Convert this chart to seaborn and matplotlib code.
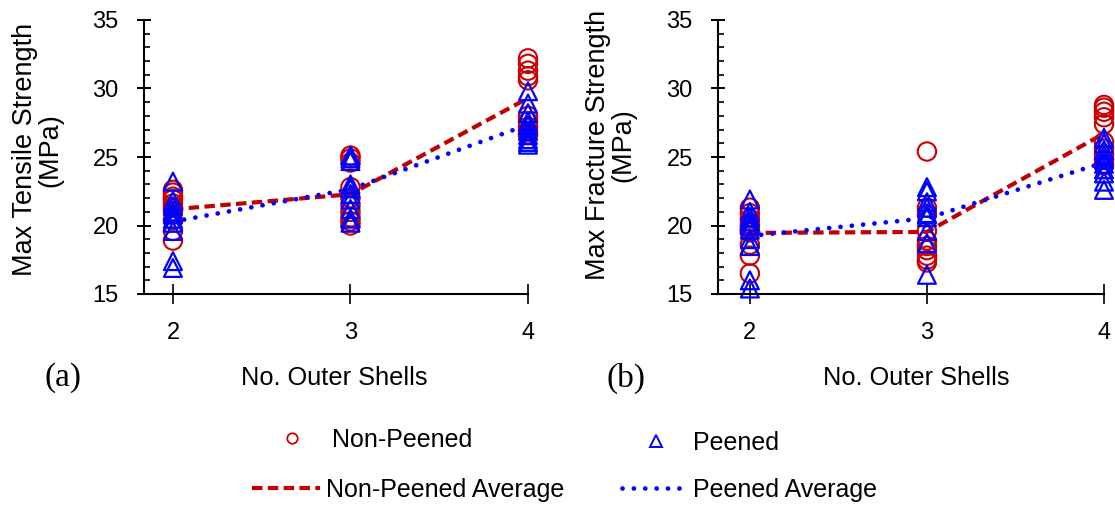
import numpy as np
import pandas as pd
import matplotlib
matplotlib.use("Agg")
import matplotlib.pyplot as plt
import seaborn as sns
from matplotlib.lines import Line2D
from matplotlib.ticker import MultipleLocator

# ---------------- data ----------------
shells = [2, 3, 4]

tensile_non_peened = [
    [22.6, 22.4, 22.1, 21.9, 21.6, 21.3, 21.0, 20.4, 19.6, 18.9],
    [25.1, 24.9, 24.6, 22.8, 22.0, 21.5, 21.0, 20.6, 20.3, 20.0],
    [32.2, 31.8, 31.3, 30.9, 30.6, 28.0, 27.6, 27.2, 26.8, 26.6],
]
tensile_peened = [
    [23.2, 21.8, 21.4, 21.0, 20.8, 20.5, 20.2, 19.6, 17.4, 16.9],
    [25.1, 24.9, 24.7, 23.0, 22.7, 22.3, 21.9, 21.2, 20.5, 20.2],
    [29.8, 28.9, 28.2, 27.6, 27.3, 26.9, 26.6, 26.3, 26.1, 25.9],
]
fracture_non_peened = [
    [21.3, 20.9, 20.5, 20.1, 19.8, 19.5, 19.6, 18.6, 17.8, 16.5],
    [25.4, 21.3, 20.8, 19.6, 18.9, 18.5, 18.2, 17.8, 17.5, 17.3],
    [28.8, 28.6, 28.3, 27.9, 27.4, 26.1, 25.6, 25.2, 24.8, 24.4],
]
fracture_peened = [
    [21.9, 21.0, 20.6, 20.3, 20.0, 19.7, 19.0, 18.5, 16.0, 15.4],
    [22.8, 22.5, 21.7, 21.3, 20.9, 20.6, 20.8, 19.6, 18.7, 16.4],
    [26.4, 26.0, 25.5, 25.1, 24.8, 24.5, 24.1, 23.8, 23.2, 22.6],
]

y_labels = ["Max Tensile Strength\n(MPa)", "Max Fracture Strength\n(MPa)"]
x_label = "No. Outer Shells"
panel_tags = ["(a)", "(b)"]
legend_labels = ["Non-Peened", "Peened", "Non-Peened Average", "Peened Average"]

# ---------------- style ----------------
RED = "#CC0000"
RED_LINE = "#C00000"
BLUE = "#0000FF"

sns.set_style("ticks")
plt.rcParams["font.family"] = ["Liberation Sans", "DejaVu Sans"]
plt.rcParams["text.color"] = "black"
plt.rcParams["axes.labelcolor"] = "black"
plt.rcParams["xtick.color"] = "black"
plt.rcParams["ytick.color"] = "black"

W, H = 1115, 508
fig = plt.figure(figsize=(W / 100, H / 100), dpi=100)


def to_long(groups):
    rows = []
    for s, vals in zip(shells, groups):
        for v in vals:
            rows.append({"shells": s, "value": v})
    return pd.DataFrame(rows)


DASH = (2.5, 1.3)
DOT = (0.01, 2.4)


def draw(ax, non_peened, peened, ylabel, xlim, ylab_pos, xlab_pos):
    df_np = to_long(non_peened)
    df_p = to_long(peened)
    sns.lineplot(data=df_np, x="shells", y="value", estimator="mean", errorbar=None,
                 color=RED_LINE, lw=3.0, ax=ax, zorder=1.5)
    sns.lineplot(data=df_p, x="shells", y="value", estimator="mean", errorbar=None,
                 color=BLUE, lw=3.4, ax=ax, zorder=1.6)
    ax.lines[0].set_dashes(DASH)
    ax.lines[1].set_dashes(DOT)
    ax.lines[1].set_dash_capstyle("round")
    sns.scatterplot(data=df_np, x="shells", y="value", marker="o", s=175,
                    facecolors="none", edgecolors=RED, linewidths=1.5,
                    ax=ax, clip_on=False, zorder=2)
    sns.scatterplot(data=df_p, x="shells", y="value", marker="^", s=165,
                    facecolors="none", edgecolors=BLUE, linewidths=1.6,
                    ax=ax, clip_on=False, zorder=2.5)

    ax.set_xlim(*xlim)
    ax.set_ylim(15, 35)
    ax.set_xticks(shells)
    ax.yaxis.set_major_locator(MultipleLocator(5))
    ax.yaxis.set_minor_locator(MultipleLocator(1))
    sns.despine(ax=ax)
    for sp in ("left", "bottom"):
        ax.spines[sp].set_linewidth(1.5)
        ax.spines[sp].set_color("black")
    ax.tick_params(axis="y", which="major", direction="inout", length=9.5, width=1.4,
                   pad=13.5, labelsize=17, colors="black")
    ax.tick_params(axis="y", which="minor", direction="in", length=4.5, width=1.2,
                   colors="black")
    ax.tick_params(axis="x", which="major", direction="inout", length=14, width=1.2,
                   pad=13, labelsize=17, colors="black")
    ax.set_ylabel(ylabel, fontsize=19.5, linespacing=0.95, color="black")
    ax.yaxis.set_label_coords(*ylab_pos)
    ax.set_xlabel(x_label, fontsize=18.3, color="black")
    ax.xaxis.set_label_coords(*xlab_pos)


ax1 = fig.add_axes([144 / W, 1 - 294 / H, 384 / W, 274 / H])
ax2 = fig.add_axes([718 / W, 1 - 294 / H, 386 / W, 274 / H])
draw(ax1, tensile_non_peened, tensile_peened, y_labels[0], (1.837, 4.0),
     (-0.21, 0.526), (0.496, -0.262))
draw(ax2, fracture_non_peened, fracture_peened, y_labels[1], (1.82, 4.0),
     (-0.212, 0.544), (0.513, -0.262))

fig.text(44 / W, 1 - 378 / H, panel_tags[0], fontsize=24, family="Liberation Serif",
         ha="left", va="center", color="black")
fig.text(606 / W, 1 - 378 / H, panel_tags[1], fontsize=24, family="Liberation Serif",
         ha="left", va="center", color="black")

# ---------------- legend ----------------
FS_PX = 18 * 100 / 72
h_np = Line2D([], [], marker="o", ls="none", markersize=7.5, mfc="none", mec=RED, mew=1.3)
h_p = Line2D([], [], marker="^", ls="none", markersize=9, mfc="none", mec=BLUE, mew=1.4)
h_npa = Line2D([], [], color=RED_LINE, lw=3.0, dashes=DASH)
h_pa = Line2D([], [], color=BLUE, lw=3.4, dashes=DOT, dash_capstyle="round")


def add_entry(handle, label, x_px, y_px, hl_px, pad_px):
    leg = fig.legend([handle], [label], loc="center left",
                     bbox_to_anchor=(x_px / W, 1 - y_px / H), frameon=False,
                     borderpad=0, borderaxespad=0, handlelength=hl_px / FS_PX,
                     handletextpad=pad_px / FS_PX, fontsize=18, numpoints=1)
    for t in leg.get_texts():
        t.set_color("black")


add_entry(h_np, legend_labels[0], 267, 440, 50, 15)
add_entry(h_p, legend_labels[1], 631, 443, 50, 12)
add_entry(h_npa, legend_labels[2], 252, 490, 68, 6)
add_entry(h_pa, legend_labels[3], 622, 490, 60, 11)

fig.savefig("out.png", dpi=100)
